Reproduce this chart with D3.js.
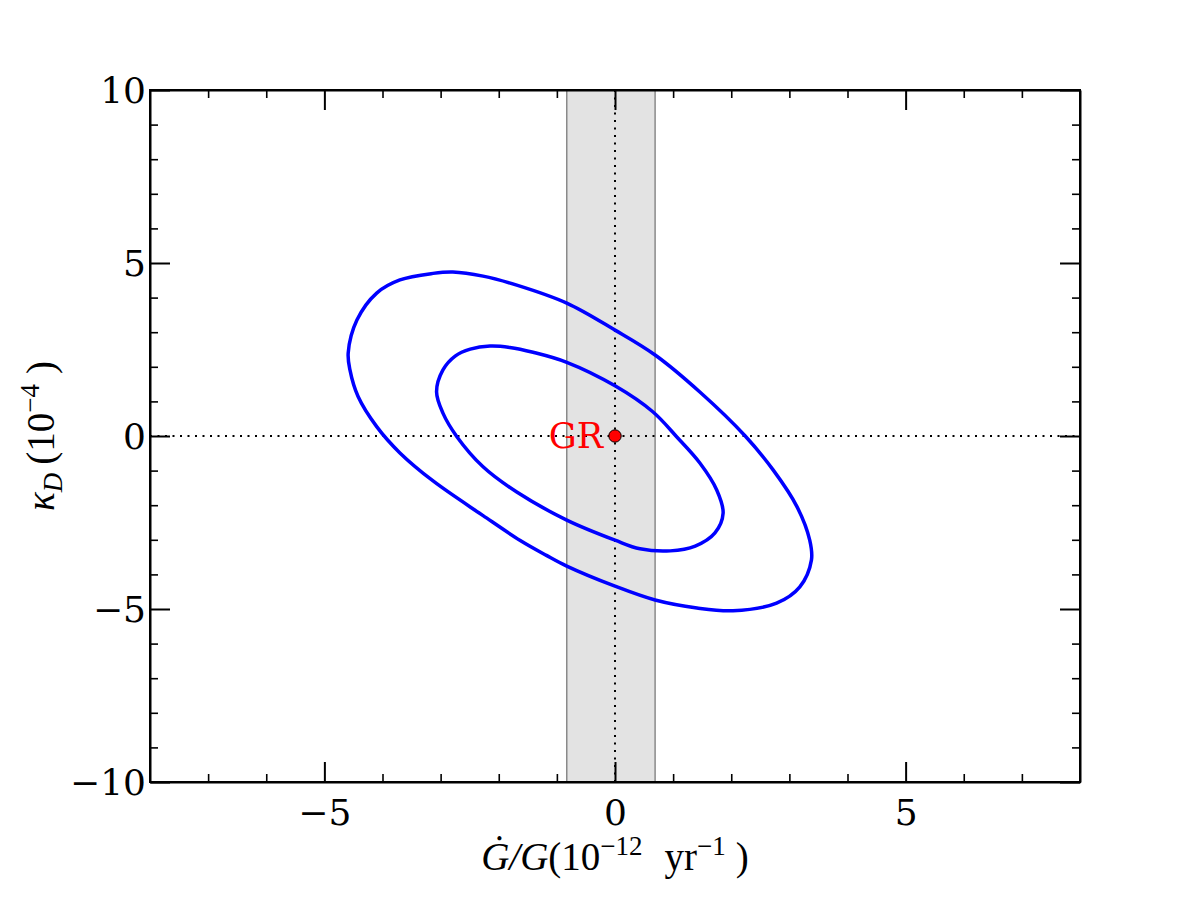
<!DOCTYPE html>
<html>
<head>
<meta charset="utf-8">
<script src="https://cdn.jsdelivr.net/npm/d3@7"></script>
<style>
  html, body { margin: 0; padding: 0; background: #ffffff; }
  svg { display: block; }
</style>
</head>
<body>
<svg id="chart" width="1200" height="900"></svg>
<script>
// ---------------- data ----------------
const xDomain = [-8, 8];
const yDomain = [-10, 10];
const xMajorTicks = [-5, 0, 5];
const yMajorTicks = [-10, -5, 0, 5, 10];
const xMinorTicks = [-7, -6, -4, -3, -2, -1, 1, 2, 3, 4, 6, 7];
const yMinorTicks = [-9, -8, -7, -6, -4, -3, -2, -1, 1, 2, 3, 4, 6, 7, 8, 9];

// shaded band of allowed Gdot/G
const bandRange = [-0.83, 0.69];

// GR point
const grPoint = [0, 0];
const grLabel = "GR";

// outer (95%) contour, [Gdot/G, kappa_D]
const contourOuter = [
  [-4.59, 2.40], [-4.44, 3.35], [-4.10, 4.13], [-3.70, 4.51], [-3.13, 4.70],
  [-2.79, 4.74], [-2.27, 4.62], [-1.69, 4.36], [-0.83, 3.84], [0.00, 3.06],
  [0.69, 2.34], [1.46, 1.27], [2.24, 0.00], [2.72, -0.98],
  [3.13, -2.04], [3.35, -3.01], [3.38, -3.58], [3.18, -4.36], [2.78, -4.83],
  [2.03, -5.05], [1.41, -4.97], [0.69, -4.74], [0.00, -4.34], [-0.83, -3.76],
  [-1.18, -3.45], [-1.63, -3.02], [-2.27, -2.30], [-3.13, -1.30], [-3.70, -0.49],
  [-4.10, 0.27], [-4.42, 1.14], [-4.56, 1.91]
];

// inner (68%) contour
const contourInner = [
  [-3.07, 1.28], [-2.96, 1.91], [-2.75, 2.31], [-2.49, 2.51], [-2.15, 2.60],
  [-1.81, 2.56], [-1.41, 2.42], [-0.83, 2.13], [0.00, 1.45], [0.65, 0.70],
  [1.06, -0.02], [1.46, -0.78], [1.75, -1.56], [1.86, -2.23], [1.72, -2.80],
  [1.38, -3.18], [0.95, -3.32], [0.43, -3.26], [0.00, -3.01], [-0.83, -2.43],
  [-1.69, -1.62], [-2.27, -0.89], [-2.72, -0.02], [-2.96, 0.66]
];

// ---------------- layout ----------------
const margin = { left: 150, top: 90, right: 120, bottom: 118 };
const W = 1200, H = 900;
const plotW = W - margin.left - margin.right; // 930
const plotH = H - margin.top - margin.bottom; // 692

const svg = d3.select("#chart");
const g = svg.append("g").attr("transform", `translate(${margin.left},${margin.top})`);

const x = d3.scaleLinear().domain(xDomain).range([0, plotW]);
const y = d3.scaleLinear().domain(yDomain).range([plotH, 0]);

svg.append("defs").append("clipPath").attr("id", "plotclip")
  .append("rect").attr("x", 0).attr("y", 0).attr("width", plotW).attr("height", plotH);

const plot = g.append("g").attr("clip-path", "url(#plotclip)");

// band
plot.append("rect")
  .attr("x", x(bandRange[0]))
  .attr("y", 0)
  .attr("width", x(bandRange[1]) - x(bandRange[0]))
  .attr("height", plotH)
  .attr("fill", "#e3e3e3");
bandRange.forEach(v => {
  plot.append("line")
    .attr("x1", x(v)).attr("x2", x(v))
    .attr("y1", 0).attr("y2", plotH)
    .attr("stroke", "#8a8a8a").attr("stroke-width", 1.5);
});

// dotted zero lines
plot.append("line")
  .attr("x1", x(xDomain[0])).attr("x2", x(xDomain[1]))
  .attr("y1", y(0)).attr("y2", y(0))
  .attr("stroke", "#000").attr("stroke-width", 2)
  .attr("stroke-dasharray", "2,5.5");
plot.append("line")
  .attr("x1", x(0)).attr("x2", x(0))
  .attr("y1", y(yDomain[1])).attr("y2", y(yDomain[0]))
  .attr("stroke", "#000").attr("stroke-width", 2)
  .attr("stroke-dasharray", "2,5.5");

// contours
const lineGen = d3.line()
  .x(d => x(d[0]))
  .y(d => y(d[1]))
  .curve(d3.curveCatmullRomClosed.alpha(0.5));

[contourOuter, contourInner].forEach(c => {
  plot.append("path")
    .attr("d", lineGen(c))
    .attr("fill", "none")
    .attr("stroke", "#0000ff")
    .attr("stroke-width", 3.5)
    .attr("stroke-linejoin", "round");
});

// GR point and label
plot.append("circle")
  .attr("cx", x(grPoint[0])).attr("cy", y(grPoint[1]))
  .attr("r", 6.2)
  .attr("fill", "#ff0000")
  .attr("stroke", "#000").attr("stroke-width", 1);
plot.append("text")
  .attr("x", x(grPoint[0]) - 12)
  .attr("y", y(grPoint[1]) + 12)
  .attr("text-anchor", "end")
  .attr("font-family", "'DejaVu Serif', serif")
  .attr("font-size", 35)
  .attr("fill", "#ff0000")
  .text(grLabel);

// ---------------- axes ----------------
const tickFont = "'DejaVu Serif', serif";
const tickFontSize = 36;
const majorLen = 20, minorLen = 8;

function styleAxis(sel) {
  sel.select(".domain").attr("stroke", "#000").attr("stroke-width", 2);
  sel.selectAll(".tick line").attr("stroke", "#000").attr("stroke-width", 2);
  sel.selectAll(".tick text")
    .attr("font-family", tickFont)
    .attr("font-size", tickFontSize)
    .attr("fill", "#000");
}
const fmt = d => d < 0 ? "\u2212" + Math.abs(d) : String(d);

// bottom
const xAxisB = g.append("g").attr("transform", `translate(0,${plotH})`)
  .call(d3.axisBottom(x).tickValues(xMajorTicks).tickSize(-majorLen).tickPadding(9).tickFormat(fmt).tickSizeOuter(0));
styleAxis(xAxisB);
xAxisB.selectAll(".tick text").attr("dy", "0.95em");
g.append("g").attr("transform", `translate(0,${plotH})`)
  .call(d3.axisBottom(x).tickValues(xMinorTicks).tickSize(-minorLen).tickFormat("").tickSizeOuter(0))
  .call(s => { s.select(".domain").remove(); s.selectAll(".tick line").attr("stroke", "#000").attr("stroke-width", 1.6); });

// top
const xAxisT = g.append("g")
  .call(d3.axisTop(x).tickValues(xMajorTicks).tickSize(-majorLen).tickFormat("").tickSizeOuter(0));
styleAxis(xAxisT);
g.append("g")
  .call(d3.axisTop(x).tickValues(xMinorTicks).tickSize(-minorLen).tickFormat("").tickSizeOuter(0))
  .call(s => { s.select(".domain").remove(); s.selectAll(".tick line").attr("stroke", "#000").attr("stroke-width", 1.6); });

// left
const yAxisL = g.append("g")
  .call(d3.axisLeft(y).tickValues(yMajorTicks).tickSize(-majorLen).tickPadding(4).tickFormat(fmt).tickSizeOuter(0));
styleAxis(yAxisL);
yAxisL.selectAll(".tick text").attr("dy", "0.36em");
g.append("g")
  .call(d3.axisLeft(y).tickValues(yMinorTicks).tickSize(-minorLen).tickFormat("").tickSizeOuter(0))
  .call(s => { s.select(".domain").remove(); s.selectAll(".tick line").attr("stroke", "#000").attr("stroke-width", 1.6); });

// right
const yAxisR = g.append("g").attr("transform", `translate(${plotW},0)`)
  .call(d3.axisRight(y).tickValues(yMajorTicks).tickSize(-majorLen).tickFormat("").tickSizeOuter(0));
styleAxis(yAxisR);
g.append("g").attr("transform", `translate(${plotW},0)`)
  .call(d3.axisRight(y).tickValues(yMinorTicks).tickSize(-minorLen).tickFormat("").tickSizeOuter(0))
  .call(s => { s.select(".domain").remove(); s.selectAll(".tick line").attr("stroke", "#000").attr("stroke-width", 1.6); });

// frame on top
g.append("rect").attr("x", 0).attr("y", 0).attr("width", plotW).attr("height", plotH)
  .attr("fill", "none").attr("stroke", "#000").attr("stroke-width", 2);

// ---------------- axis labels ----------------
const labelFont = "'Liberation Serif', 'DejaVu Serif', serif";
const xl = svg.append("text")
  .attr("x", margin.left + x(0))
  .attr("y", 870)
  .attr("text-anchor", "middle")
  .attr("font-family", labelFont)
  .attr("font-size", 39)
  .attr("fill", "#000");
xl.append("tspan").attr("font-style", "italic").text("\u0120/G");
xl.append("tspan").text("(10");
xl.append("tspan").attr("font-size", 27).attr("dy", -15).text("\u221212");
xl.append("tspan").attr("dy", 15).attr("dx", 22).text("yr");
xl.append("tspan").attr("font-size", 27).attr("dy", -15).text("\u22121");
xl.append("tspan").attr("dy", 15).attr("dx", 10).text(")");

const yl = svg.append("text")
  .attr("transform", `translate(54,${margin.top + y(0)}) rotate(-90)`)
  .attr("text-anchor", "middle")
  .attr("font-family", labelFont)
  .attr("font-size", 39)
  .attr("fill", "#000");
yl.append("tspan").attr("font-style", "italic").text("\u03BA");
yl.append("tspan").attr("font-style", "italic").attr("font-size", 27).attr("dy", 8).text("D");
yl.append("tspan").attr("dy", -8).attr("dx", 8).text("(10");
yl.append("tspan").attr("font-size", 27).attr("dy", -15).text("\u22124");
yl.append("tspan").attr("dy", 15).attr("dx", 10).text(")");
</script>
</body>
</html>
